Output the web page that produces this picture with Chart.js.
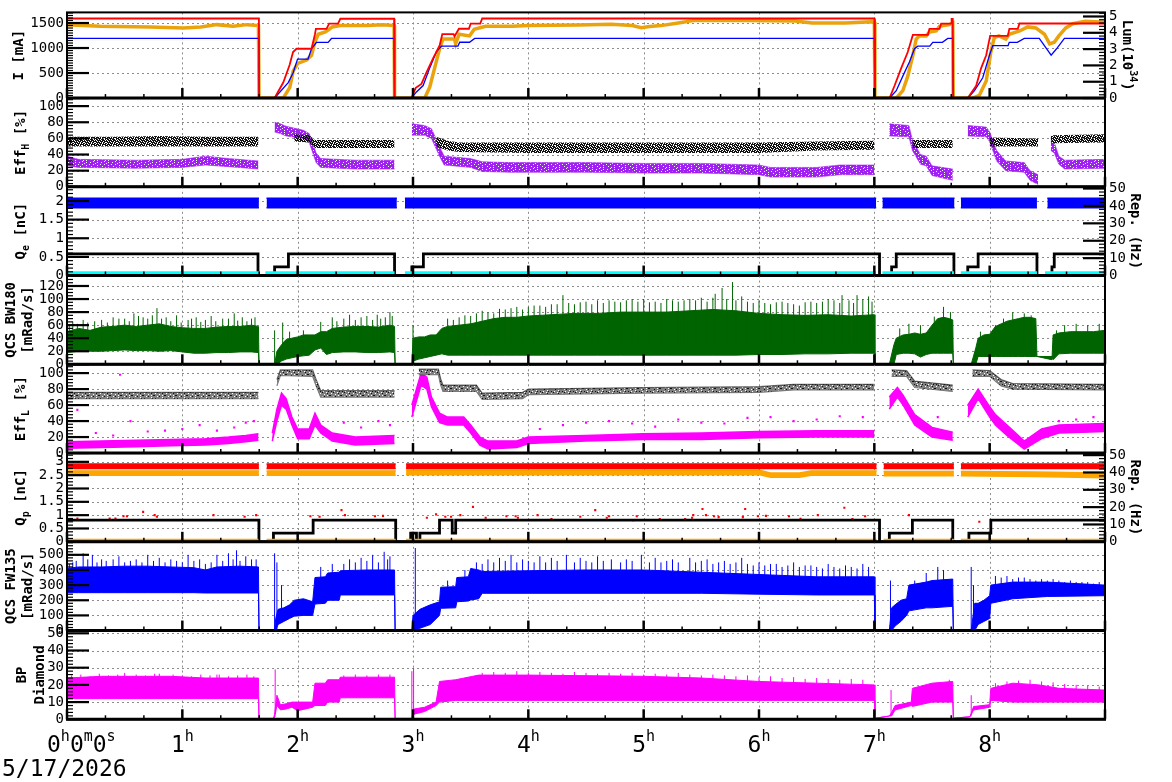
<!DOCTYPE html>
<html><head><meta charset="utf-8">
<script src="https://cdn.jsdelivr.net/npm/chart.js@4.4.1/dist/chart.umd.min.js"></script>
<style>
html,body{margin:0;padding:0;background:#fff;}
#wrap{position:relative;width:1172px;height:782px;overflow:hidden;background:#fff;}
canvas{position:absolute;left:0;top:0;}
</style></head><body><div id="wrap"></div>
<script>
// ================= DATA (time in hours) =================
const timeTicks = [0,1,2,3,4,5,6,7,8];
const dateLabel = '5/17/2026';

// tick labels of the value axes
const ticksI    = [0,500,1000,1500];
const ticksLum  = [0,1,2,3,4,5];
const ticksEff  = [0,20,40,60,80,100];
const ticksQe   = [0,0.5,1,1.5,2];
const ticksRep  = [0,10,20,30,40,50];
const ticksBW   = [0,20,40,60,80,100,120];
const ticksQp   = [0,0.5,1,1.5,2,2.5,3];
const ticksFW   = [0,100,200,300,400,500];
const ticksBP   = [0,10,20,30,40,50];

// Panel 1: beam currents (mA) and luminosity (1e34)
const lerT = [0,1.664,1.666,1.80,1.875,1.93,1.96,1.99,2.12,2.15,2.158,2.25,2.273,2.35,2.37,2.836,2.84,2.986,3.024,3.073,3.116,3.174,3.231,3.254,3.352,3.36,3.398,3.485,3.50,3.583,3.60,7.0,7.005,7.132,7.175,7.233,7.29,7.334,7.464,7.478,7.565,7.579,7.666,7.67,7.68,7.684,7.81,7.883,7.926,7.97,8.004,8.157,8.171,8.244,8.258,9.0];
const lerI = [1590,1590,0,0,310,660,920,985,985,1275,1384,1384,1487,1487,1585,1585,0,0,205,282,506,795,1051,1276,1276,1230,1385,1385,1487,1487,1590,1590,0,0,245,599,920,1262,1262,1384,1384,1487,1487,1580,1580,0,0,245,599,856,1242,1242,1384,1384,1490,1490];
const herT = [0,1.664,1.666,1.80,1.918,1.96,1.999,2.09,2.12,2.163,2.264,2.293,2.836,2.84,2.986,3.03,3.088,3.145,3.203,3.246,3.39,3.405,3.49,3.535,7.0,7.005,7.132,7.19,7.247,7.305,7.348,7.377,7.48,7.507,7.59,7.637,7.68,7.684,7.81,7.868,7.94,7.998,8.027,8.16,8.17,8.24,8.30,8.43,8.533,8.58,8.648,9.0];
const herI = [1191,1191,0,0,309,502,779,779,985,1114,1114,1191,1191,0,0,122,250,603,923,1038,1038,1115,1115,1192,1192,0,0,148,438,727,985,1036,1036,1114,1114,1191,1191,0,0,148,405,856,1049,1049,1114,1114,1191,1191,856,985,1191,1191];
const lumT = [0,0.29,0.72,1.01,1.16,1.30,1.44,1.56,1.66,1.665,1.875,1.932,1.96,2.0,2.077,2.12,2.149,2.178,2.24,2.27,2.30,2.37,2.6,2.74,2.836,2.84,3.102,3.145,3.188,3.231,3.26,3.36,3.37,3.40,3.49,3.53,3.63,3.86,4.0,4.43,4.72,4.9,4.98,5.05,5.15,5.3,5.44,5.88,6.31,6.46,6.75,6.98,7.0,7.005,7.19,7.247,7.29,7.334,7.363,7.39,7.45,7.478,7.536,7.565,7.652,7.68,7.684,7.854,7.91,7.97,8.01,8.04,8.08,8.14,8.17,8.26,8.33,8.40,8.475,8.52,8.56,8.6,8.66,8.72,8.83,9.0];
const lumV = [4.50,4.40,4.36,4.30,4.36,4.50,4.40,4.50,4.44,0,0,0.65,1.64,2.13,2.33,2.62,3.42,3.91,4.05,4.20,4.36,4.44,4.44,4.50,4.44,0,0,0.67,1.85,3.03,3.62,3.62,3.32,3.91,3.81,4.21,4.40,4.40,4.44,4.48,4.52,4.45,4.31,4.39,4.44,4.60,4.76,4.76,4.72,4.60,4.60,4.68,4.66,0,0,0.45,1.34,2.62,3.61,3.81,3.81,4.05,4.11,4.40,4.50,4.60,0,0,0.16,1.05,2.82,3.71,3.81,3.61,3.91,4.11,4.36,4.30,3.91,3.32,3.42,3.81,4.30,4.56,4.70,4.64];

// Panel 2: Eff_H (%) envelopes
const effHkT  = [0,0.4,0.8,1.2,1.66,1.8,1.97,2.1,2.15,2.5,2.84,2.9,3.2,3.3,3.4,4.0,5.0,6.0,6.5,7.0,7.1,7.33,7.68,7.8,8.0,8.42,8.47,8.53,9.0];
const effHkLo = [50,50,50,50,50,null,56,55,48,48,48,null,50,45,43,42,42,42,45,46,null,48,48,null,50,50,null,54,55];
const effHkHi = [62,62,63,62,62,null,65,64,58,58,58,null,62,57,55,55,55,55,56,57,null,58,58,null,61,60,null,64,65];
const effHpT  = [0,0.1,0.6,1.0,1.2,1.4,1.66,1.72,1.80,1.85,1.9,2.05,2.1,2.16,2.2,2.5,2.84,2.9,2.99,3.1,3.16,3.23,3.27,3.5,3.6,3.85,4.5,5.0,5.5,6.0,6.1,6.5,6.7,7.0,7.07,7.13,7.3,7.33,7.4,7.45,7.5,7.68,7.75,7.81,7.97,8.0,8.06,8.14,8.3,8.35,8.42,8.48,8.53,8.56,8.6,8.65,9.0];
const effHpLo = [26,24,23,24,27,25,22,null,68,66,63,60,55,30,24,22,22,null,64,64,60,38,27,24,19,18,18,17,17,15,12,12,15,15,null,63,62,45,28,26,14,8,null,63,62,56,32,20,18,8,3,null,45,42,28,22,23];
const effHpHi = [38,34,33,34,38,35,32,null,80,78,75,70,66,42,35,33,33,null,78,76,72,50,38,35,31,30,30,29,29,27,24,24,27,27,null,78,76,58,40,38,26,22,null,76,74,68,45,32,30,20,15,null,60,55,38,33,34];

// Panel 3: Q_e (nC) and repetition (Hz)
const qeT  = [0,1.664,1.69,1.73,2.86,2.9,2.93,7.016,7.04,7.07,7.695,7.72,7.75,8.41,8.45,8.5,9.0];
const qeLo = [1.82,1.82,null,1.82,1.82,null,1.82,1.82,null,1.82,1.82,null,1.82,1.82,null,1.82,1.82];
const qeHi = [2.07,2.07,null,2.07,2.07,null,2.07,2.07,null,2.07,2.07,null,2.07,2.07,null,2.07,2.07];
const repET = [0,1.656,1.80,1.92,2.84,2.99,3.09,7.045,7.15,7.19,7.69,7.81,7.90,8.41,8.54,8.56,9];
const repE  = [12.5,0,5,12.5,0,5,12.5,0,5,12.5,0,5,12.5,0,5,12.5,12.5];
const cyanT = [0,1.664,1.69,1.72,2.84,2.88,2.93,7.015,7.04,7.07,7.69,7.72,7.75,8.41,8.45,8.48,9];
const cyanV = [0.06,0.06,null,0.06,0.06,null,0.06,0.06,null,0.06,0.06,null,0.06,0.06,null,0.06,0.06];

// Panel 4: QCS BW180 (mRad/s) envelope + spikes
const bwT  = [0,0.1,0.2,0.3,0.4,0.5,0.6,0.7,0.8,0.9,1.0,1.1,1.2,1.3,1.4,1.5,1.6,1.66,1.665,1.80,1.82,1.86,1.90,1.95,2.0,2.05,2.1,2.15,2.2,2.25,2.3,2.4,2.5,2.6,2.7,2.8,2.84,2.845,2.99,3.0,3.05,3.1,3.15,3.2,3.25,3.3,3.4,3.5,3.6,3.7,3.8,3.9,4.0,4.2,4.4,4.6,4.8,5.0,5.2,5.4,5.6,5.8,6.0,6.2,6.4,6.6,6.8,7.0,7.005,7.13,7.17,7.19,7.25,7.3,7.35,7.4,7.45,7.5,7.55,7.6,7.65,7.68,7.685,7.84,7.88,7.9,7.95,8.0,8.05,8.1,8.15,8.2,8.25,8.3,8.35,8.4,8.41,8.54,8.55,8.6,8.7,8.8,8.9,9.0];
const bwLo = [18,20,20,20,21,22,21,21,20,21,19,17,17,18,18,19,19,18,0,0,0,5,8,10,12,13,14,22,25,15,18,19,19,18,18,19,18,0,0,5,8,10,12,14,16,14,14,14,14,14,14,14,14,14,14,14,14,14,14,14,14,14,15,15,16,16,17,17,0,0,0,15,17,17,16,11,15,17,17,17,17,17,0,0,0,12,12,12,12,12,12,12,12,12,12,12,12,12,7,16,17,17,17,17,17];
const bwHi = [50,55,52,57,58,60,58,60,62,58,56,55,55,57,58,58,60,58,0,0,20,30,38,40,42,45,45,45,50,50,55,57,58,58,57,60,58,0,0,40,42,42,45,45,55,58,60,62,66,70,72,72,74,76,78,78,80,80,80,82,84,82,78,76,75,76,74,76,0,0,30,40,45,46,48,46,48,60,70,72,70,68,0,0,25,40,45,46,58,62,66,68,70,72,72,70,12,7,45,48,50,50,50,52];
const bwSpT   = [0.05,0.14,0.3,0.45,0.58,0.66,0.78,0.86,0.95,1.05,1.12,1.25,1.35,1.45,1.52,1.6,1.80,1.87,1.93,2.05,2.2,2.3,2.45,2.6,2.72,2.8,3.0,3.3,3.45,3.6,3.75,3.9,4.05,4.2,4.3,4.45,4.6,4.75,4.9,5.05,5.2,5.35,5.5,5.62,5.68,5.77,5.85,6.0,6.15,6.3,6.45,6.6,6.72,6.85,6.95,7.22,7.3,7.4,7.52,7.6,7.66,7.92,8.05,8.12,8.2,8.3,8.36,8.58,8.65,8.75,8.85,8.95];
const bwSpTop = [65,68,68,70,78,72,86,72,75,68,72,74,70,78,72,70,52,64,50,52,65,72,76,74,70,80,60,70,75,82,85,88,90,92,106,95,98,96,100,95,100,98,102,108,117,126,104,98,95,92,96,100,106,106,104,55,62,60,73,88,80,50,60,70,80,78,75,52,60,62,60,62];
const bwSpBase= [30,30,30,30,30,30,30,30,30,30,30,30,30,30,30,30,0,10,15,20,25,25,25,25,25,25,5,30,30,30,30,30,30,30,30,30,30,30,30,30,30,30,30,30,30,30,30,30,30,30,30,30,30,30,30,25,25,25,25,25,25,15,25,25,25,25,25,25,25,25,25,25];
const bwSp2T   = [0.02,0.09,0.18,0.24,0.35,0.4,0.5,0.54,0.62,0.7,0.74,0.82,0.9,0.99,1.08,1.16,1.2,1.29,1.4,1.48,1.56,1.63,2.34,2.4,2.5,2.55,2.65,2.69,2.76,2.82,3.35,3.4,3.5,3.55,3.65,3.7,3.8,3.85,3.95,4.0,4.1,4.15,4.25,4.35,4.4,4.5,4.55,4.65,4.7,4.8,4.85,4.95,5.0,5.1,5.15,5.25,5.3,5.4,5.45,5.55,5.6,5.72,5.8,5.9,5.95,6.05,6.1,6.2,6.25,6.35,6.4,6.5,6.55,6.65,6.7,6.78,6.82,6.9,6.98];
const bwSp2Top = [60,62,64,66,64,72,70,66,74,70,75,70,66,64,70,65,68,66,70,67,66,72,66,70,68,72,68,76,72,74,68,72,74,78,80,78,84,86,84,88,90,88,92,94,92,96,92,94,98,95,98,96,100,96,94,98,96,100,98,96,102,100,98,96,94,94,92,96,94,90,95,94,96,98,94,98,94,100,96];

// Panel 5: Eff_L (%)
const effLgT  = [0,0.5,1.0,1.66,1.72,1.82,1.85,2.13,2.16,2.2,2.84,2.95,3.05,3.22,3.24,3.26,3.55,3.6,3.95,4.0,5.0,6.0,6.3,7.0,7.08,7.15,7.28,7.35,7.68,7.78,7.85,8.0,8.1,8.2,9.0];
const effLgLo = [68,68,68,68,null,84,97,96,84,70,70,null,98,98,85,77,77,67,68,73,75,76,79,79,null,96,96,82,77,null,96,96,84,80,79];
const effLgHi = [76,76,76,76,null,92,104,104,92,78,78,null,105,105,93,85,85,75,76,80,82,83,86,86,null,104,103,90,85,null,104,103,92,87,86];
const effLmT  = [0,0.3,0.6,0.9,1.2,1.4,1.55,1.66,1.72,1.78,1.82,1.86,1.9,1.95,2.0,2.1,2.15,2.2,2.3,2.5,2.84,2.92,2.99,3.07,3.12,3.16,3.23,3.3,3.44,3.5,3.58,3.65,3.9,4.0,4.5,5.0,5.5,6.0,6.5,7.0,7.07,7.13,7.2,7.25,7.35,7.5,7.68,7.75,7.81,7.9,8.0,8.05,8.15,8.3,8.45,8.6,9.0];
const effLmLo = [6,7,8,9,10,12,14,16,null,15,40,60,55,35,18,18,35,25,15,10,12,null,45,85,80,58,38,35,35,25,10,5,7,12,15,17,17,19,20,20,null,55,70,60,35,20,16,null,45,68,45,35,22,5,18,25,27];
const effLmHi = [14,15,16,17,18,20,22,24,null,25,55,75,68,45,30,30,50,35,25,20,22,null,60,100,95,70,50,45,45,35,20,15,15,20,22,24,25,27,28,28,null,70,82,72,48,32,26,null,60,80,58,48,35,15,30,35,37];
const effLsT  = [0.09,0.46,0.1,0.25,0.4,0.55,0.7,0.85,1.0,1.15,1.3,1.45,1.55,1.62,2.4,2.55,2.7,2.8,4.1,4.3,4.5,4.7,4.9,5.1,5.3,5.5,5.7,5.9,6.1,6.3,6.5,6.7,6.9,7.55,8.6,8.75,8.9];
const effLsV  = [54,98,20,25,22,40,27,28,30,35,28,32,38,40,38,32,40,35,30,35,38,40,37,33,42,38,37,44,45,40,42,46,45,45,40,42,45];

// Panel 6: Q_p (nC) and repetition (Hz)
const qpT    = [0,1.664,1.7,1.73,2.85,2.9,2.94,7.02,7.05,7.08,7.69,7.72,7.75,9.0];
const qpRLo  = [2.75,2.75,null,2.75,2.75,null,2.75,2.75,null,2.75,2.75,null,2.75,2.75];
const qpRHi  = [2.92,2.92,null,2.92,2.92,null,2.92,2.92,null,2.92,2.92,null,2.92,2.92];
const qpZero = [0.05,0.05,null,0.05,0.05,null,0.05,0.05,null,0.05,0.05,null,0.05,0.05];
const qpOT   = [0,1.664,1.7,1.73,2.85,2.9,2.94,6.0,6.1,6.35,6.45,7.02,7.05,7.08,7.69,7.72,7.75,8.4,9.0];
const qpOLo  = [2.50,2.50,null,2.50,2.50,null,2.52,2.52,2.42,2.42,2.50,2.50,null,2.48,2.48,null,2.48,2.45,2.40];
const qpOHi  = [2.66,2.66,null,2.66,2.66,null,2.68,2.68,2.58,2.58,2.66,2.66,null,2.64,2.64,null,2.64,2.62,2.58];
const qpDotT = [0.09,0.37,0.42,0.49,0.52,0.66,0.76,0.78,1.27,1.54,1.64,2.11,2.19,2.38,2.41,2.67,2.74,3.12,3.20,3.28,3.33,3.41,3.52,3.63,3.81,3.89,3.91,4.08,4.20,4.45,4.58,4.68,4.70,4.91,4.94,5.14,5.36,5.42,5.43,5.51,5.54,5.61,5.65,5.86,5.88,5.99,6.06,6.26,6.36,6.51,6.74,6.81,6.92,7.30,7.91];
const qpDotV = [0.875,0.875,0.875,0.96,0.96,1.125,1.0,0.94,1.0,0.94,1.0,0.96,0.94,1.19,1.0,0.96,0.975,0.90,1.03,0.94,0.94,1.0,1.31,0.90,0.96,0.96,0.90,1.0,0.85,0.94,1.19,0.90,0.96,0.81,0.96,0.85,0.85,0.90,1.0,1.23,1.0,0.96,0.925,0.925,1.23,0.96,0.975,0.96,0.86,1.0,1.28,0.85,0.96,1.0,0.75];
const repPT = [0,1.664,1.79,2.134,2.85,2.98,3.03,3.06,3.23,3.34,3.37,7.045,7.13,7.33,7.68,7.82,8.01,9];
const repP  = [12.5,0,5,12.5,0,5,0,5,12.5,5,12.5,0,5,12.5,0,5,12.5,12.5];

// Panel 7: QCS FW135 (mRad/s)
const fwT  = [0,0.1,0.3,0.5,0.7,0.9,1.1,1.2,1.3,1.5,1.66,1.665,1.80,1.81,1.83,1.88,1.93,1.97,2.05,2.13,2.15,2.24,2.26,2.36,2.37,2.6,2.84,2.845,2.99,3.0,3.06,3.15,3.23,3.24,3.37,3.38,3.48,3.5,3.57,3.6,4.0,4.5,5.0,5.5,6.0,6.5,7.0,7.005,7.13,7.15,7.18,7.23,7.28,7.3,7.45,7.5,7.68,7.685,7.84,7.87,7.9,7.95,8.0,8.01,8.2,8.5,9.0];
const fwLo = [250,250,250,250,250,250,250,248,248,248,248,0,0,0,40,60,80,95,100,100,175,180,200,200,235,235,235,0,0,0,15,40,100,147,150,190,195,202,210,246,246,246,246,246,240,235,235,0,0,0,30,60,100,130,150,150,160,0,0,0,40,60,80,180,210,225,230];
const fwHi = [410,420,420,425,425,420,415,400,420,425,420,0,0,80,140,150,170,200,210,190,350,355,380,385,395,400,400,0,0,100,140,170,190,286,290,350,355,410,400,390,395,400,400,385,370,355,355,0,0,150,170,200,210,300,320,330,340,0,0,180,180,200,230,300,320,320,300];
const fwSpT   = [0.05,0.14,0.22,0.3,0.45,0.55,0.7,0.8,0.9,1.05,1.15,1.3,1.4,1.47,1.55,1.64,1.80,1.82,1.86,2.2,2.3,2.45,2.55,2.65,2.75,2.8,3.02,3.3,3.45,3.55,3.65,3.75,3.85,3.95,4.1,4.2,4.33,4.45,4.6,4.72,4.85,4.98,5.1,5.25,5.4,5.55,5.7,5.85,6.0,6.15,6.3,6.45,6.6,6.75,6.9,7.14,7.35,7.45,7.55,7.6,7.84,7.86,8.05,8.15,8.3,8.45,8.6,8.8];
const fwSpTop = [450,510,500,470,490,460,500,480,470,500,470,500,510,530,490,470,510,450,300,420,440,470,480,500,520,490,545,330,400,450,470,480,500,470,490,480,500,480,490,470,470,500,480,470,480,470,460,480,450,440,450,430,440,430,440,330,330,380,420,400,420,300,360,360,350,340,330,320];
const fwSpBase= [300,300,300,300,300,300,300,300,300,300,300,300,300,300,300,300,0,0,50,300,300,300,300,300,300,300,0,200,250,300,300,300,300,300,300,300,300,300,300,300,300,300,300,300,300,300,300,300,300,300,300,300,300,300,300,0,250,250,250,250,0,0,250,250,250,250,250,250];
const fwSp2T   = [0.02,0.08,0.18,0.26,0.34,0.4,0.5,0.6,0.65,0.75,0.85,0.95,1.0,1.1,1.2,1.25,1.35,1.44,1.5,1.6,2.4,2.5,2.6,2.7,2.78,3.6,3.7,3.8,3.9,4.0,4.05,4.15,4.25,4.4,4.5,4.55,4.65,4.8,4.9,5.05,5.15,5.2,5.3,5.45,5.5,5.6,5.65,5.75,5.8,5.9,5.95,6.05,6.1,6.2,6.25,6.35,6.4,6.5,6.55,6.65,6.7,6.8,6.85,6.95,8.1,8.2,8.25,8.35,8.4,8.5,8.55,8.65,8.7,8.75,8.85,8.9,8.95];
const fwSp2Top = [440,460,470,450,460,470,450,470,450,460,450,460,450,460,440,450,460,470,460,470,440,450,460,450,470,440,450,460,450,460,450,450,460,450,460,450,460,450,460,450,450,460,450,450,460,440,450,440,450,440,430,430,440,420,430,420,430,420,410,420,410,420,410,420,350,340,350,340,330,330,340,320,330,320,320,310,320];

// Panel 8: BP Diamond
const bpT  = [0,0.3,0.6,0.9,1.2,1.5,1.66,1.665,1.79,1.80,1.82,1.85,1.9,1.95,2.0,2.13,2.15,2.24,2.26,2.36,2.37,2.84,2.845,2.985,3.01,3.1,3.2,3.23,3.37,3.57,4.0,5.0,5.5,6.0,6.5,7.0,7.005,7.13,7.15,7.18,7.32,7.33,7.5,7.68,7.685,7.83,7.86,8.0,8.01,8.2,8.43,8.6,9.0];
const bpLo = [12,12,12,12,12,12,12,0.5,0.5,1,8,5.5,6,7,5,7,8,8,10,10,12.5,12.5,0.5,0.5,3,4.5,8,10,11,11,11,11,11,11,11,11,0.6,1.9,2,5.4,8,7.5,10,10,0.6,1.5,5.4,7,11,10,10,10,10];
const bpHi = [24,25,25,25,24,24,24,0.5,0.5,3,14,8.5,9,10,10,10,21,21,23,23,24.5,24.5,0.5,0.5,6,7,10,22,23,25.7,25.7,25,24,22,21,20,0.6,1.9,4,8,10,18,21,22,0.6,1.5,7.4,8.5,18,21,20,18,17];
const bpSpT    = [0.5,0.8,1.3,1.805,2.99,3.005,7.145,7.65,7.84];
const bpSpTop  = [27,26.5,26,29,28,30,17,23,14];
const bpSpBase = [20,20,20,3,1,3,2,18,2];
const bpSp2T   = [0.04,0.12,0.2,0.28,0.36,0.44,0.52,0.6,0.68,0.76,0.84,0.92,1.0,1.08,1.16,1.24,1.32,1.4,1.48,1.56,1.62,2.4,2.5,2.6,2.7,2.8,3.6,3.7,3.8,3.9,4.0,4.1,4.2,4.3,4.4,4.5,4.6,4.7,4.8,4.9,5.0,5.1,5.2,5.3,5.4,5.5,5.6,5.7,5.8,5.9,6.0,6.1,6.2,6.3,6.4,6.5,6.6,6.7,6.8,6.9];
const bpSp2Top = [25.5,26,25,26.5,25.5,26,25,26,25.5,26.5,25,26,25.5,25,26,25.5,26,25,25.5,26,25,25.5,26,25.5,26,26,27,27.5,27,28,27,27.5,27,26.5,27.5,27,26.5,27,26.5,27,26,26.5,26,27,26,25.5,26,25.5,25,25.5,24.5,25,24,24.5,23.5,24,23.5,23,23.5,23];
const bpSp3T   = [8.05,8.15,8.25,8.35,8.45,8.55,8.65,8.75,8.85,8.95];
const bpSp3Top = [21,22,22.5,23,22,21.5,20.5,20,19.5,19];

// ================= RENDERING =================
const MONO = '"DejaVu Sans Mono","Liberation Mono",monospace';
Chart.defaults.font.family = MONO;
const W = 1172, H = 782, PL = 67, PR = 1105, PTOP = 9.3, PH = 88.75;
const wrap = document.getElementById('wrap');

// speckle fills that imitate dense scatter clouds (style only)
function speckle(map, rows) {
  const c = document.createElement('canvas');
  c.width = rows[0].length; c.height = rows.length;
  const g = c.getContext('2d');
  rows.forEach((r, y) => {
    for (let x = 0; x < r.length; x++) {
      const col = map[r[x]];
      if (col) { g.fillStyle = col; g.fillRect(x, y, 1, 1); }
    }
  });
  return g.createPattern(c, 'repeat');
}

function pts(t, v) { return t.map((x, i) => ({ x: x, y: v[i] })); }
function lineDs(t, v, color, width, axis, extra) {
  return Object.assign({ data: pts(t, v), borderColor: color, borderWidth: width, yAxisID: axis || 'y', fill: false, pointRadius: 0 }, extra || {});
}
function bandDs(t, lo, hi, color, fillColor, axis, bw) {
  return [
    { data: pts(t, lo), borderColor: color, borderWidth: bw, yAxisID: axis || 'y', fill: false, pointRadius: 0 },
    { data: pts(t, hi), borderColor: color, borderWidth: bw, yAxisID: axis || 'y', fill: '-1', backgroundColor: fillColor, pointRadius: 0 }
  ];
}
function spikeDs(t, base, top, color, axis) {
  const d = [];
  t.forEach((x, i) => {
    const b = Array.isArray(base) ? base[i] : base;
    d.push({ x: x, y: b }, { x: x, y: top[i] }, { x: x, y: null });
  });
  return { data: d, borderColor: color, borderWidth: 1, yAxisID: axis || 'y', fill: false, pointRadius: 0 };
}
function dotDs(t, v, color, r, axis) {
  return { data: pts(t, v), showLine: false, pointRadius: r, pointStyle: 'rect', pointBackgroundColor: color, pointBorderWidth: 0, borderColor: color, yAxisID: axis || 'y' };
}

function drawRich(ctx, segs, cx, cy, rot, size, bold) {
  ctx.save();
  ctx.translate(cx, cy); ctx.rotate(rot);
  const f = (m) => (bold ? 'bold ' : '') + (m === 0 ? size : Math.round(size * 0.72)) + 'px ' + MONO;
  let w = 0;
  segs.forEach(([s, m]) => { ctx.font = f(m); w += ctx.measureText(s).width; });
  let x = -w / 2;
  ctx.textAlign = 'left'; ctx.textBaseline = 'middle'; ctx.fillStyle = '#000';
  segs.forEach(([s, m]) => {
    ctx.font = f(m);
    const dy = m === -1 ? size * 0.38 : (m === 1 ? -size * 0.42 : 0);
    ctx.fillText(s, x, dy);
    x += ctx.measureText(s).width;
  });
  ctx.restore();
}

function makeGp(cfg, isLast) {
  return {
    id: 'gp',
    beforeDatasetsDraw(chart) {
      const { ctx, chartArea: a, scales } = chart;
      ctx.save();
      ctx.strokeStyle = '#8c8c8c'; ctx.lineWidth = 1; ctx.setLineDash([2, 3]);
      for (let h = 1; h < 9; h++) {
        const x = Math.round(scales.x.getPixelForValue(h)) + 0.5;
        ctx.beginPath(); ctx.moveTo(x, a.top); ctx.lineTo(x, a.bottom); ctx.stroke();
      }
      scales.y.ticks.forEach(t => {
        if (t.value <= scales.y.min || t.value >= scales.y.max) return;
        const y = Math.round(scales.y.getPixelForValue(t.value)) + 0.5;
        ctx.beginPath(); ctx.moveTo(a.left, y); ctx.lineTo(a.right, y); ctx.stroke();
      });
      ctx.restore();
    },
    afterDatasetsDraw(chart) {
      const { ctx, chartArea: a, scales } = chart;
      ctx.save();
      ctx.strokeStyle = '#000';
      const yTicks = (sc, list, minorN, side) => {
        const x0 = side === 'left' ? a.left : a.right;
        const dir = side === 'left' ? 1 : -1;
        const step = list[1] - list[0];
        list.forEach(v => {
          const y = sc.getPixelForValue(v);
          ctx.lineWidth = 2.2;
          ctx.beginPath(); ctx.moveTo(x0, y); ctx.lineTo(x0 + dir * 22, y); ctx.stroke();
          ctx.lineWidth = 1.2;
          for (let k = 1; k < minorN; k++) {
            const vv = v + step * k / minorN;
            if (vv > sc.max) break;
            const yy = sc.getPixelForValue(vv);
            ctx.beginPath(); ctx.moveTo(x0, yy); ctx.lineTo(x0 + dir * 6, yy); ctx.stroke();
          }
        });
      };
      yTicks(scales.y, cfg.yTicks, cfg.minorN, 'left');
      if (cfg.y2) yTicks(scales.y2, cfg.y2.ticks, cfg.y2.minorN, 'right');
      for (let m = 0; m <= 27; m++) {
        const x = scales.x.getPixelForValue(m / 3);
        const major = m % 3 === 0;
        ctx.lineWidth = major ? 2.5 : 1.5;
        ctx.beginPath(); ctx.moveTo(x, a.bottom); ctx.lineTo(x, a.bottom - (major ? 10 : 4)); ctx.stroke();
      }
      ctx.lineWidth = 2;
      ctx.strokeRect(a.left, a.top, a.right - a.left, a.bottom - a.top);
      ctx.lineWidth = 3;
      ctx.beginPath(); ctx.moveTo(a.left - 1, a.bottom); ctx.lineTo(a.right + 1, a.bottom); ctx.stroke();
      const cy = (a.top + a.bottom) / 2;
      cfg.left.forEach(l => drawRich(ctx, l.segs, l.cx, cy, -Math.PI / 2, 14, true));
      (cfg.right || []).forEach(l => drawRich(ctx, l.segs, l.cx, cy, Math.PI / 2, 14, true));
      if (isLast) {
        ctx.fillStyle = '#000';
        timeTicks.forEach(h => {
          const segs = h === 0 ? [['0', 0], ['h', 1], ['0', 0], ['m', 1], ['0', 0], ['s', 1]] : [[String(h), 0], ['h', 1]];
          let w = 0;
          segs.forEach(([s, m]) => { ctx.font = (m ? 15 : 23) + 'px ' + MONO; w += ctx.measureText(s).width; });
          let x = h === 0 ? 47 : scales.x.getPixelForValue(h) - w / 2;
          ctx.textBaseline = 'alphabetic'; ctx.textAlign = 'left';
          segs.forEach(([s, m]) => {
            ctx.font = (m ? 15 : 23) + 'px ' + MONO;
            ctx.fillText(s, x, m ? 741 : 752);
            x += ctx.measureText(s).width;
          });
        });
        ctx.font = '23px ' + MONO;
        ctx.fillText(dateLabel, 2, 776);
      }
      ctx.restore();
    }
  };
}

const fmt = v => String(Math.round(v * 1000) / 1000);

function axisCfg(pos, max, list, width, pad) {
  return {
    position: pos, min: 0, max: max,
    ticks: { autoSkip: false, color: '#000', padding: pad, font: { family: MONO, size: 14 }, callback: fmt },
    grid: { display: false, drawTicks: false }, border: { display: false },
    afterBuildTicks(s) { s.ticks = list.map(v => ({ value: v })); },
    afterFit(s) { s.width = width; }
  };
}

function makePanel(idx, cfg) {
  const c = document.createElement('canvas');
  c.width = W; c.height = H; c.style.width = W + 'px'; c.style.height = H + 'px';
  wrap.appendChild(c);
  const top = PTOP + idx * PH, bottom = top + PH;
  const scales = {
    x: { type: 'linear', min: 0, max: 9, display: false },
    y: axisCfg('left', cfg.yMax, cfg.yTicks, PL, 3)
  };
  if (cfg.y2) scales.y2 = axisCfg('right', cfg.y2.max, cfg.y2.ticks, W - PR, 4);
  const n = cfg.datasets.length;
  cfg.datasets.forEach((d, i) => { d.order = n - i; });
  new Chart(c, {
    type: 'line',
    data: { datasets: cfg.datasets },
    options: {
      responsive: false, animation: false, devicePixelRatio: 1,
      layout: { autoPadding: false, padding: { top: top, bottom: H - bottom, left: 0, right: cfg.y2 ? 0 : (W - PR) } },
      plugins: { legend: { display: false }, tooltip: { enabled: false } },
      elements: { point: { radius: 0 }, line: { tension: 0 } },
      scales: scales
    },
    plugins: [makeGp(cfg, idx === 7)]
  });
}

const ORANGE_L = '#eaa30c', PURPLE = '#a020f0', GREEN = '#006400', MAG = '#ff00ff';
const blackDots = speckle({ X: '#111' }, [
  'XX.XXX.X.XX', '.XXX.XXXX.X', 'X.X.XX..XXX', 'XXX.X.XX.X.', '.X.XXXX.XXX', 'XX.X..XXX.X', 'X.XXX.X.XX.']);
const purpleDots = speckle({ X: PURPLE }, [
  'XXXXX.XXXXX', 'XX.XXXXXX.X', 'XXXXXXX.XXX', 'X.XXX.XXXXX', 'XXXXXXXXX.X', 'XXX.XXXXXXX', 'XXXXXX.XX.X']);
const grayDots = speckle({ G: '#808080', K: '#111' }, [
  'GGGKGGG.GGG', 'G.GGGGGGKGG', 'GGGGG.GGGGG', 'KGGGGGGG.GK', 'GGG.GKGGGGG', 'GGGGGGGG.GG', 'GKGG.GGGGKG']);

const panels = [
  { yMax: 1712, yTicks: ticksI, minorN: 10, y2: { max: 5.25, ticks: ticksLum, minorN: 5 },
    left: [{ cx: 19, segs: [['I [mA]', 0]] }],
    right: [{ cx: 1127, segs: [['Lum(10', 0], ['34', 1], [')', 0]] }],
    datasets: [
      lineDs(lumT, lumV, ORANGE_L, 3.5, 'y2'),
      lineDs(herT, herI, '#0000ff', 1.3, 'y'),
      lineDs(lerT, lerI, '#ff0000', 1.8, 'y')
    ] },
  { yMax: 110, yTicks: ticksEff, minorN: 5,
    left: [{ cx: 21, segs: [['Eff', 0], ['H', -1], [' [%]', 0]] }],
    datasets: [
      ...bandDs(effHpT, effHpLo, effHpHi, 'rgba(160,32,240,0.6)', purpleDots, 'y', 1),
      ...bandDs(effHkT, effHkLo, effHkHi, 'rgba(0,0,0,0)', blackDots, 'y', 0)
    ] },
  { yMax: 2.38, yTicks: ticksQe, minorN: 5, y2: { max: 51, ticks: ticksRep, minorN: 5 },
    left: [{ cx: 21, segs: [['Q', 0], ['e', -1], [' [nC]', 0]] }],
    right: [{ cx: 1135, segs: [['Rep. (Hz)', 0]] }],
    datasets: [
      ...bandDs(qeT, qeLo, qeHi, '#0000ff', '#0000ff', 'y', 1.5),
      lineDs(repET, repE, '#000000', 2.8, 'y2', { stepped: true }),
      lineDs(cyanT, cyanV, '#00ffff', 4, 'y')
    ] },
  { yMax: 136, yTicks: ticksBW, minorN: 4,
    left: [{ cx: 11.5, segs: [['QCS BW180', 0]] }, { cx: 28, segs: [['[mRad/s]', 0]] }],
    datasets: [
      ...bandDs(bwT, bwLo, bwHi, GREEN, GREEN, 'y', 1),
      spikeDs(bwSpT, bwSpBase, bwSpTop, GREEN, 'y'),
      spikeDs(bwSp2T, 30, bwSp2Top, GREEN, 'y')
    ] },
  { yMax: 111, yTicks: ticksEff, minorN: 5,
    left: [{ cx: 21, segs: [['Eff', 0], ['L', -1], [' [%]', 0]] }],
    datasets: [
      ...bandDs(effLmT, effLmLo, effLmHi, MAG, MAG, 'y', 1.5),
      ...bandDs(effLgT, effLgLo, effLgHi, 'rgba(0,0,0,0.55)', grayDots, 'y', 1.2),
      dotDs(effLsT, effLsV, MAG, 1.5, 'y')
    ] },
  { yMax: 3.33, yTicks: ticksQp, minorN: 4, y2: { max: 51.2, ticks: ticksRep, minorN: 5 },
    left: [{ cx: 21, segs: [['Q', 0], ['p', -1], [' [nC]', 0]] }],
    right: [{ cx: 1135, segs: [['Rep. (Hz)', 0]] }],
    datasets: [
      ...bandDs(qpOT, qpOLo, qpOHi, '#ffa500', '#ffa500', 'y', 1.5),
      ...bandDs(qpT, qpRLo, qpRHi, '#ff0000', '#ff0000', 'y', 1.5),
      dotDs(qpDotT, qpDotV, '#ff0000', 1.5, 'y'),
      lineDs(repPT, repP, '#000000', 2.8, 'y2', { stepped: true }),
      lineDs(qpT, qpZero, '#ffa500', 3.5, 'y')
    ] },
  { yMax: 586, yTicks: ticksFW, minorN: 5,
    left: [{ cx: 11.5, segs: [['QCS FW135', 0]] }, { cx: 28, segs: [['[mRad/s]', 0]] }],
    datasets: [
      ...bandDs(fwT, fwLo, fwHi, '#0000ff', '#0000ff', 'y', 1),
      spikeDs(fwSpT, fwSpBase, fwSpTop, '#0000ff', 'y'),
      spikeDs(fwSp2T, 300, fwSp2Top, '#0000ff', 'y')
    ] },
  { yMax: 51.6, yTicks: ticksBP, minorN: 5,
    left: [{ cx: 22.5, segs: [['BP', 0]] }, { cx: 40, segs: [['Diamond', 0]] }],
    datasets: [
      ...bandDs(bpT, bpLo, bpHi, MAG, MAG, 'y', 1),
      spikeDs(bpSpT, bpSpBase, bpSpTop, MAG, 'y'),
      spikeDs(bpSp2T, 20, bpSp2Top, MAG, 'y'),
      spikeDs(bpSp3T, 15, bpSp3Top, MAG, 'y')
    ] }
];

panels.forEach((p, i) => makePanel(i, p));
</script></body></html>
